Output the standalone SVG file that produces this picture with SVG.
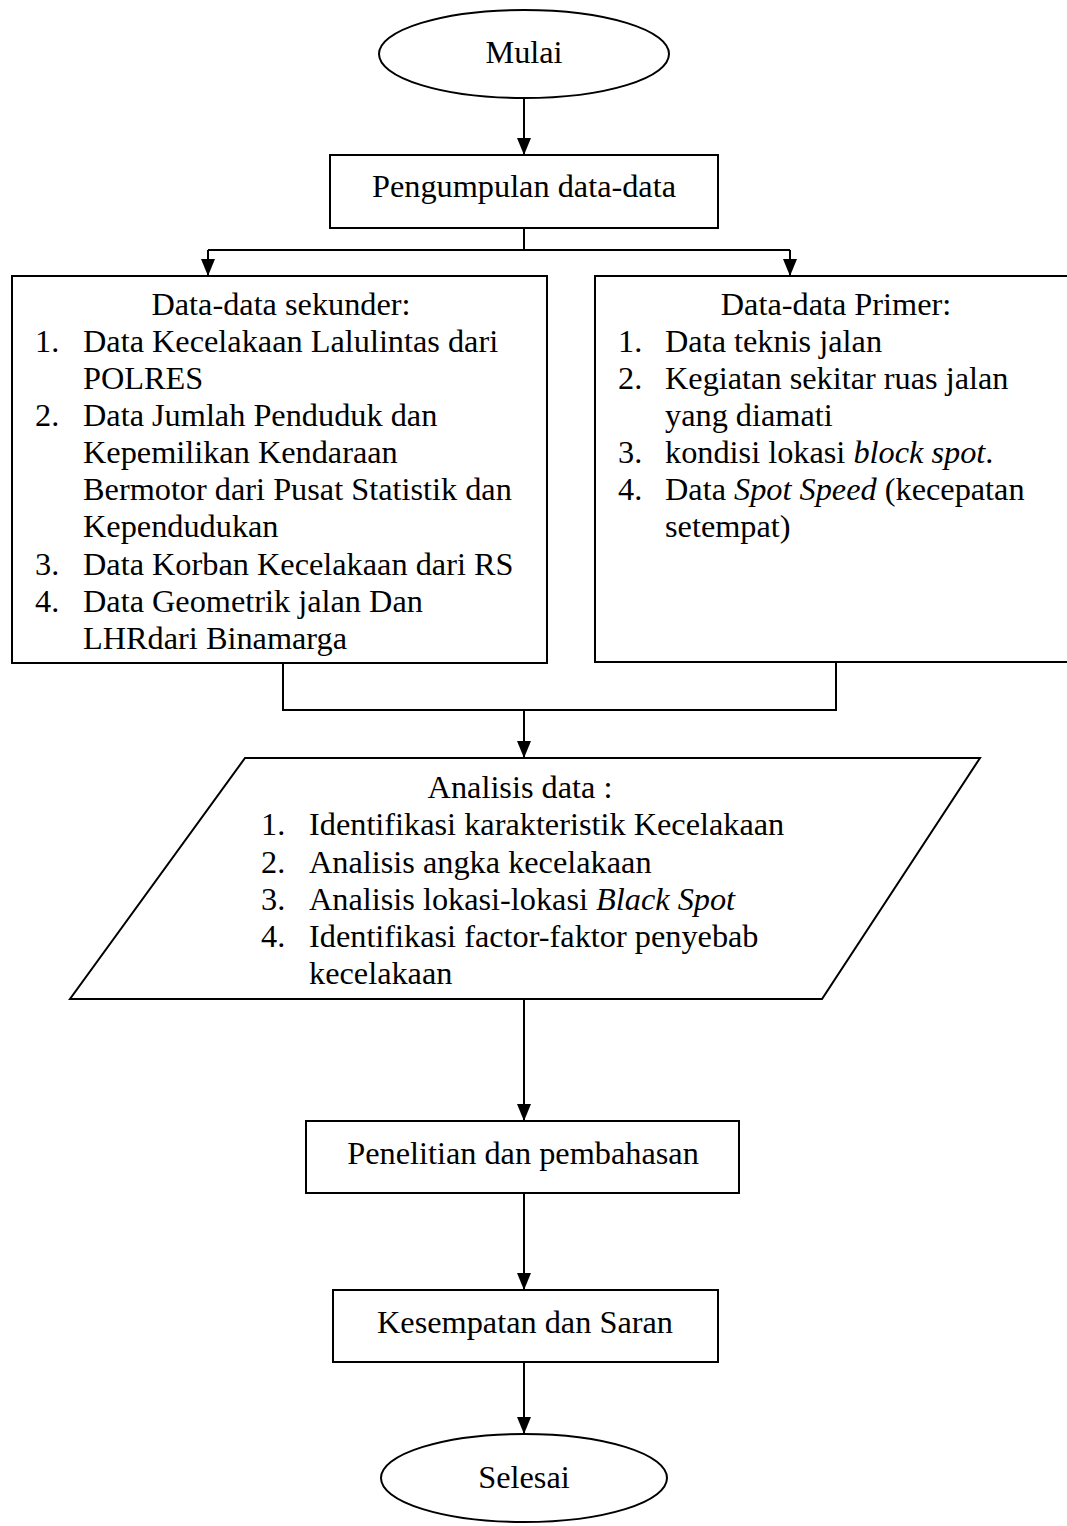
<svg xmlns="http://www.w3.org/2000/svg" width="1067" height="1526" viewBox="0 0 1067 1526">
<style>
.s{fill:#fff;stroke:#000;stroke-width:2}
.c{fill:none;stroke:#000;stroke-width:2}
.a{marker-end:url(#ah)}
text{font-family:"Liberation Serif","Times New Roman",serif;font-size:32.3px;fill:#000}
.m{text-anchor:middle}
.i{font-style:italic}
</style>
<defs>
<marker id="ah" markerUnits="userSpaceOnUse" markerWidth="18" markerHeight="14" refX="17" refY="7" orient="auto" viewBox="0 0 18 14">
<path d="M0,0 L17,7 L0,14 Z" fill="#000"/>
</marker>
</defs>
<rect width="1067" height="1526" fill="#fff"/>
<g id="connectors">
<path class="c a" d="M524,99 V155"/>
<path class="c" d="M524,228 V250 M208,250 H790"/>
<path class="c a" d="M208,250 V276"/>
<path class="c a" d="M790,250 V276"/>
<path class="c" d="M283,663 V710 H836 V662"/>
<path class="c a" d="M524,710 V758"/>
<path class="c a" d="M524,999 V1121"/>
<path class="c a" d="M524,1193 V1290"/>
<path class="c a" d="M524,1362 V1434"/>
</g>
<g id="mulai">
<ellipse class="s" cx="524" cy="54" rx="145" ry="44"/>
<text class="m" x="524" y="63">Mulai</text>
</g>
<g id="pengumpulan">
<rect class="s" x="330" y="155" width="388" height="73"/>
<text class="m" x="524" y="197">Pengumpulan data-data</text>
</g>
<g id="sekunder">
<rect class="s" x="12" y="276" width="535" height="387"/>
<text class="m" x="281" y="315">Data-data sekunder:</text>
<text x="35" y="352">1.</text><text x="83" y="352">Data Kecelakaan Lalulintas dari</text>
<text x="83" y="389">POLRES</text>
<text x="35" y="426">2.</text><text x="83" y="426">Data Jumlah Penduduk dan</text>
<text x="83" y="463">Kepemilikan Kendaraan</text>
<text x="83" y="500">Bermotor dari Pusat Statistik dan</text>
<text x="83" y="537">Kependudukan</text>
<text x="35" y="575">3.</text><text x="83" y="575">Data Korban Kecelakaan dari RS</text>
<text x="35" y="612">4.</text><text x="83" y="612">Data Geometrik jalan Dan</text>
<text x="83" y="649">LHRdari Binamarga</text>
</g>
<g id="primer">
<rect class="s" x="595" y="276" width="490" height="386"/>
<text class="m" x="836" y="315">Data-data Primer:</text>
<text x="618" y="352">1.</text><text x="665" y="352">Data teknis jalan</text>
<text x="618" y="389">2.</text><text x="665" y="389">Kegiatan sekitar ruas jalan</text>
<text x="665" y="426">yang diamati</text>
<text x="618" y="463">3.</text><text x="665" y="463">kondisi lokasi <tspan class="i">block spot</tspan>.</text>
<text x="618" y="500">4.</text><text x="665" y="500">Data <tspan class="i">Spot Speed</tspan> (kecepatan</text>
<text x="665" y="537">setempat)</text>
</g>
<g id="analisis">
<path class="s" d="M245,758 L980,758 L822,999 L70,999 Z"/>
<text class="m" x="520" y="798">Analisis data :</text>
<text x="261" y="835">1.</text><text x="309" y="835">Identifikasi karakteristik Kecelakaan</text>
<text x="261" y="873">2.</text><text x="309" y="873">Analisis angka kecelakaan</text>
<text x="261" y="910">3.</text><text x="309" y="910">Analisis lokasi-lokasi <tspan class="i">Black Spot</tspan></text>
<text x="261" y="947">4.</text><text x="309" y="947">Identifikasi factor-faktor penyebab</text>
<text x="309" y="984">kecelakaan</text>
</g>
<g id="penelitian">
<rect class="s" x="306" y="1121" width="433" height="72"/>
<text class="m" x="523" y="1164">Penelitian dan pembahasan</text>
</g>
<g id="kesimpulan">
<rect class="s" x="333" y="1290" width="385" height="72"/>
<text class="m" x="525" y="1333">Kesempatan dan Saran</text>
</g>
<g id="selesai">
<ellipse class="s" cx="524" cy="1478" rx="143" ry="44"/>
<text class="m" x="524" y="1488">Selesai</text>
</g>
</svg>
